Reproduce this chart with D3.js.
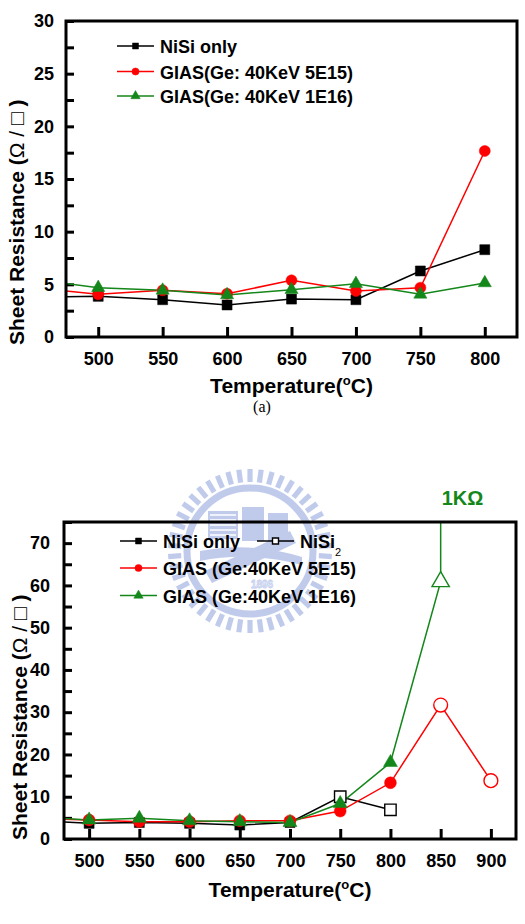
<!DOCTYPE html>
<html>
<head>
<meta charset="utf-8">
<script src="https://cdn.jsdelivr.net/npm/d3@7"></script>
<style>
body{margin:0;background:#fff}
svg{display:block}
text{font-family:"Liberation Sans",Arial,sans-serif}
</style>
</head>
<body>
<div id="chart"></div>
<script>
// sheet resistance vs anneal temperature, (a) and (b)

// ---- data, panel a ----
var tA=[450,500,550,600,650,700,750,800];
var nisiA=[3.8,3.86,3.54,3.04,3.6,3.54,6.27,8.29];
var gias5A=[4.7,4.05,4.43,4.11,5.38,4.37,4.68,17.66];
var gias1A=[5.5,4.68,4.43,3.99,4.49,5.06,4.05,5.13];
var xTicksA=[500,550,600,650,700,750,800];
var labelsA=["NiSi only","GIAS(Ge: 40KeV 5E15)","GIAS(Ge: 40KeV 1E16)"];

// ---- data, panel b ----
var tB=[450,500,550,600,650,700,750,800,850,900];
var nisiOnlyB=[4.3,3.7,3.9,3.7,3.3,3.9];   // 450..700
var nisi2B=[10.0,6.9];                     // 750,800
var gias5B=[4.8,4.5,4.1,4.1,4.3,4.3,6.6,13.3,31.7,13.8];
var gias1B=[5.2,4.5,4.9,4.3,4.1,3.9,8.4,18.1,60.9];
var gias1Off=1000;                          // 1K ohm at 850, off scale
var xTicksB=[500,550,600,650,700,750,800,850,900];
var labelsB=["NiSi only","NiSi","GIAS (Ge:40KeV 5E15)","GIAS (Ge:40KeV 1E16)"];

var green="#14871a";
w=525;h=924;
var svg=d3.select("#chart").append("svg").attr("width",w).attr("height",h);

// watermark seal behind panel b
var wm=svg.append("g").attr("transform","translate(250,551)").style("opacity",.55);
var wc="#8ea2de";
d3.range(46).forEach(function(i){
	wm.append("rect").attr("x",-2.6).attr("y",-82).attr("width",5.2).attr("height",13)
		.attr("transform","rotate("+(i*360/46)+")").style("fill",wc);
});
wm.append("circle").attr("r",63).style("fill","none").style("stroke",wc).style("stroke-width",7);
wm.append("rect").attr("x",-42).attr("y",-40).attr("width",30).attr("height",28).style("fill",wc);
d3.range(5).forEach(function(i){
	wm.append("line").attr("x1",-40).attr("x2",-14).attr("y1",-36+i*5).attr("y2",-36+i*5).style("stroke","#fff").style("stroke-width",1.5);
});
wm.append("rect").attr("x",-8).attr("y",-44).attr("width",22).attr("height",34).style("fill",wc);
wm.append("rect").attr("x",18).attr("y",-38).attr("width",20).attr("height",28).style("fill",wc);
wm.append("path").attr("d","M -45 20 L 40 -20 L 46 -8 L -38 32 Z").style("fill",wc);
wm.append("path").attr("d","M -50 0 Q 0 -10 52 6 L 52 14 Q 0 0 -50 10 Z").style("fill",wc);
wm.append("text").attr("x",12).attr("y",37).attr("text-anchor","middle")
	.style("font-size","10px").style("font-weight","bold").style("fill","#fff").style("stroke",wc).style("stroke-width",0.8).text("1896");

// ---- helpers ----
function marker(sel,type,size,color,open) {
	var sym={square:d3.symbolSquare,circle:d3.symbolCircle,triangle:d3.symbolTriangle}[type];
	sel.attr("d",d3.symbol().type(sym).size(size))
		.style("fill",open?"#fff":color)
		.style("stroke",color)
		.style("stroke-width",open?1.4:0.5);
}

function panel(o) {
	var g=svg.append("g");
	var x=d3.scaleLinear().domain(o.xd).range(o.xr);
	var y=d3.scaleLinear().domain(o.yd).range(o.yr);
	var id="clip"+o.name;
	g.append("clipPath").attr("id",id).append("rect")
		.attr("x",o.xr[0]).attr("y",o.yr[1]).attr("width",o.xr[1]-o.xr[0]).attr("height",o.yr[0]-o.yr[1]);

	// axes, inward ticks
	var ax=g.append("g").attr("transform","translate(0,"+o.yr[0]+")")
		.call(d3.axisBottom(x).tickValues(o.xt).tickSizeInner(-10).tickSizeOuter(0).tickPadding(o.xpad));
	var ay=g.append("g").attr("transform","translate("+o.xr[0]+",0)")
		.call(d3.axisLeft(y).tickValues(d3.range(0,o.yd[1]+0.01,o.ystep)).tickSizeInner(-8).tickSizeOuter(0).tickPadding(o.ypad)
			.tickFormat(function(d){return d%o.ylab===0?d:"";}));
	[ax,ay].forEach(function(a){
		a.select(".domain").remove();
		a.selectAll("line").style("stroke","#000").style("stroke-width",3);
		a.selectAll("text").style("font-size","18px").style("font-weight","bold").style("fill","#000")
			.style("font-family","'Liberation Sans',Arial,sans-serif");
	});

	// series
	var lineGen=d3.line().x(function(d){return x(d.x);}).y(function(d){return y(d.y);});
	var plot=g.append("g").attr("clip-path","url(#"+id+")");
	o.series.forEach(function(s){
		var pts=s.x.map(function(t,i){return {x:t,y:s.y[i],open:s.openFrom!=null&&t>=s.openFrom};});
		plot.append("path").attr("d",lineGen(pts))
			.style("fill","none").style("stroke",s.color).style("stroke-width",1.5);
		pts.filter(function(d){return d.x>=o.xd[0]&&d.y<=o.yd[1];}).forEach(function(d){
			g.append("path").attr("transform","translate("+x(d.x)+","+y(d.y)+")")
				.call(marker,s.type,d.open?s.openSize:s.size,s.color,d.open);
		});
	});

	// frame
	g.append("rect").attr("x",o.xr[0]).attr("y",o.yr[1]).attr("width",o.xr[1]-o.xr[0]).attr("height",o.yr[0]-o.yr[1])
		.style("fill","none").style("stroke","#000").style("stroke-width",3);

	// axis titles
	var xt=g.append("text").attr("x",(o.xr[0]+o.xr[1])/2).attr("y",o.xtitleY).attr("text-anchor","middle")
		.style("font-size","21px").style("font-weight","bold");
	xt.append("tspan").text("Temperature(");
	xt.append("tspan").attr("dy",-8).style("font-size","13px").text("o");
	xt.append("tspan").attr("dy",8).text("C)");

	var yt=g.append("text").attr("transform","translate("+o.ytitle[0]+","+o.ytitle[1]+") rotate(-90)")
		.style("font-size","21px").style("font-weight","bold");
	yt.append("tspan").text("Sheet Resistance (");
	yt.append("tspan").style("font-weight","normal").text("\u03A9 / \u25A1");
	yt.append("tspan").text(" )");

	// legend
	o.legend.forEach(function(l){
		g.append("line").attr("x1",l.x).attr("x2",l.x+37).attr("y1",l.y).attr("y2",l.y)
			.style("stroke",l.color).style("stroke-width",1.5);
		g.append("path").attr("transform","translate("+(l.x+18.5)+","+l.y+")")
			.call(marker,l.type,l.size,l.color,l.open);
		var t=g.append("text").attr("x",l.x+43).attr("y",l.y+7)
			.style("font-size","18px").style("font-weight","bold").text(l.label);
		if(l.sub) t.append("tspan").attr("dy",8).style("font-size","11px").style("font-weight","normal").text(l.sub);
	});
	return {g:g,x:x,y:y};
}

// ---- panel a ----
panel({
	name:"a",xd:[475,825],xr:[66,517],yd:[0,30],yr:[337,21],
	xt:xTicksA,ystep:2.5,ylab:5,xpad:15,ypad:12,xtitleY:393,ytitle:[24,345],
	series:[
		{x:tA,y:nisiA,color:"#000",type:"square",size:100},
		{x:tA,y:gias5A,color:"#ff0000",type:"circle",size:95},
		{x:tA,y:gias1A,color:green,type:"triangle",size:75}
	],
	legend:[
		{x:117,y:46,color:"#000",type:"square",size:36,label:labelsA[0]},
		{x:117,y:71.5,color:"#ff0000",type:"circle",size:40,label:labelsA[1]},
		{x:117,y:96,color:green,type:"triangle",size:38,label:labelsA[2]}
	]
});

svg.append("text").attr("x",262).attr("y",412).attr("text-anchor","middle")
	.style("font-family","'Liberation Serif','Times New Roman',serif").style("font-size","16px").text("(a)");

// ---- panel b ----
var pb=panel({
	name:"b",xd:[475,925],xr:[64,516],yd:[0,75],yr:[839,522],
	xt:xTicksB,ystep:5,ylab:10,xpad:15,ypad:14,xtitleY:897,ytitle:[27,840],
	series:[
		{x:tB.slice(0,8),y:nisiOnlyB.concat(nisi2B),color:"#000",type:"square",size:100,openSize:130,openFrom:750},
		{x:tB,y:gias5B,color:"#ff0000",type:"circle",size:110,openSize:150,openFrom:850},
		{x:tB.slice(0,9).concat([850]),y:gias1B.concat([gias1Off]),color:green,type:"triangle",size:85,openSize:130,openFrom:850}
	],
	legend:[
		{x:120,y:541,color:"#000",type:"square",size:36,label:labelsB[0]},
		{x:257,y:541,color:"#000",type:"square",size:36,open:true,label:labelsB[1],sub:"2"},
		{x:120,y:568,color:"#ff0000",type:"circle",size:40,label:labelsB[2]},
		{x:120,y:595.5,color:green,type:"triangle",size:38,label:labelsB[3]}
	]
});

pb.g.append("text").attr("x",pb.x(850)+1).attr("y",505)
	.style("font-size","20px").style("font-weight","bold").style("fill",green).text("1K\u03A9");
</script>
</body>
</html>
